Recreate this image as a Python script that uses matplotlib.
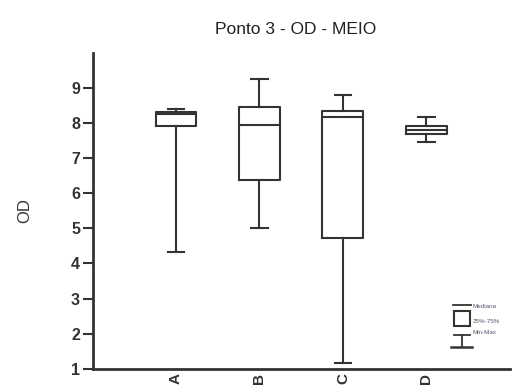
import matplotlib
matplotlib.use('Agg')
import matplotlib.pyplot as plt
from matplotlib.patches import Rectangle
from matplotlib.lines import Line2D

plt.rcParams['font.family'] = ['Liberation Sans', 'DejaVu Sans']

# OD summary per site: min, q1, median, q3, max
groups = ['A', 'B', 'C', 'D']
od_min = [4.32, 5.02, 1.15, 7.46]
od_q1 = [7.92, 6.39, 4.74, 7.68]
od_med = [8.25, 7.95, 8.17, 7.81]
od_q3 = [8.32, 8.46, 8.35, 7.93]
od_max = [8.41, 9.27, 8.82, 8.17]
legend_labels = ['Mediana', '25%-75%', 'Min-Max']

lc = '#333333'

fig = plt.figure(figsize=(5.14, 3.88), dpi=100)
ax = fig.add_axes([0.180, 0.050, 0.812, 0.813])

stats = []
for g, lo, q1, med, q3, hi in zip(groups, od_min, od_q1, od_med, od_q3, od_max):
    stats.append(dict(label=g, whislo=lo, q1=q1, med=med, q3=q3, whishi=hi, fliers=[]))

lw = 1.5
ax.bxp(stats, positions=range(1, len(groups) + 1), widths=0.49, capwidths=0.2,
       showfliers=False,
       boxprops=dict(color=lc, linewidth=lw),
       medianprops=dict(color=lc, linewidth=lw),
       whiskerprops=dict(color=lc, linewidth=lw),
       capprops=dict(color=lc, linewidth=lw))

ax.set_xlim(0, 5)
ax.set_ylim(1, 10)
ax.set_yticks(range(1, 10))
ax.set_xticks(range(1, len(groups) + 1))
ax.set_xticklabels(groups, rotation=90, fontweight='bold', fontsize=11, color=lc)

for s in ['top', 'right']:
    ax.spines[s].set_visible(False)
for s in ['left', 'bottom']:
    ax.spines[s].set_color(lc)
    ax.spines[s].set_linewidth(2)
ax.spines['left'].set_bounds(1, 10)

ax.tick_params(axis='y', direction='out', length=7, width=1.5, color=lc,
               labelsize=11.5, labelcolor=lc, pad=2)
for t in ax.get_yticklabels():
    t.set_fontweight('bold')
ax.tick_params(axis='x', length=0, pad=3)

ax.set_ylabel('OD', fontsize=12, color=lc, labelpad=28)
fig.text(0.575, 0.925, 'Ponto 3 - OD - MEIO', ha='center', va='center',
         fontsize=12.5, color='#222222')

# small key in the lower right corner
tr = ax.transAxes
ax.add_line(Line2D([0.863, 0.906], [0.202, 0.202], transform=tr, color=lc, lw=1.3))
ax.add_patch(Rectangle((0.865, 0.135), 0.039, 0.048, transform=tr, fill=False,
                       edgecolor=lc, lw=1.5))
ax.add_line(Line2D([0.866, 0.904], [0.107, 0.107], transform=tr, color=lc, lw=1.3))
ax.add_line(Line2D([0.885, 0.885], [0.107, 0.070], transform=tr, color=lc, lw=1.3))
ax.add_line(Line2D([0.860, 0.910], [0.070, 0.070], transform=tr, color=lc, lw=1.8))
for lab, yy in zip(legend_labels, [0.197, 0.150, 0.113]):
    ax.text(0.910, yy, lab, transform=tr, fontsize=4.5, va='center', color='#555577')

fig.savefig('out.png', dpi=100)
